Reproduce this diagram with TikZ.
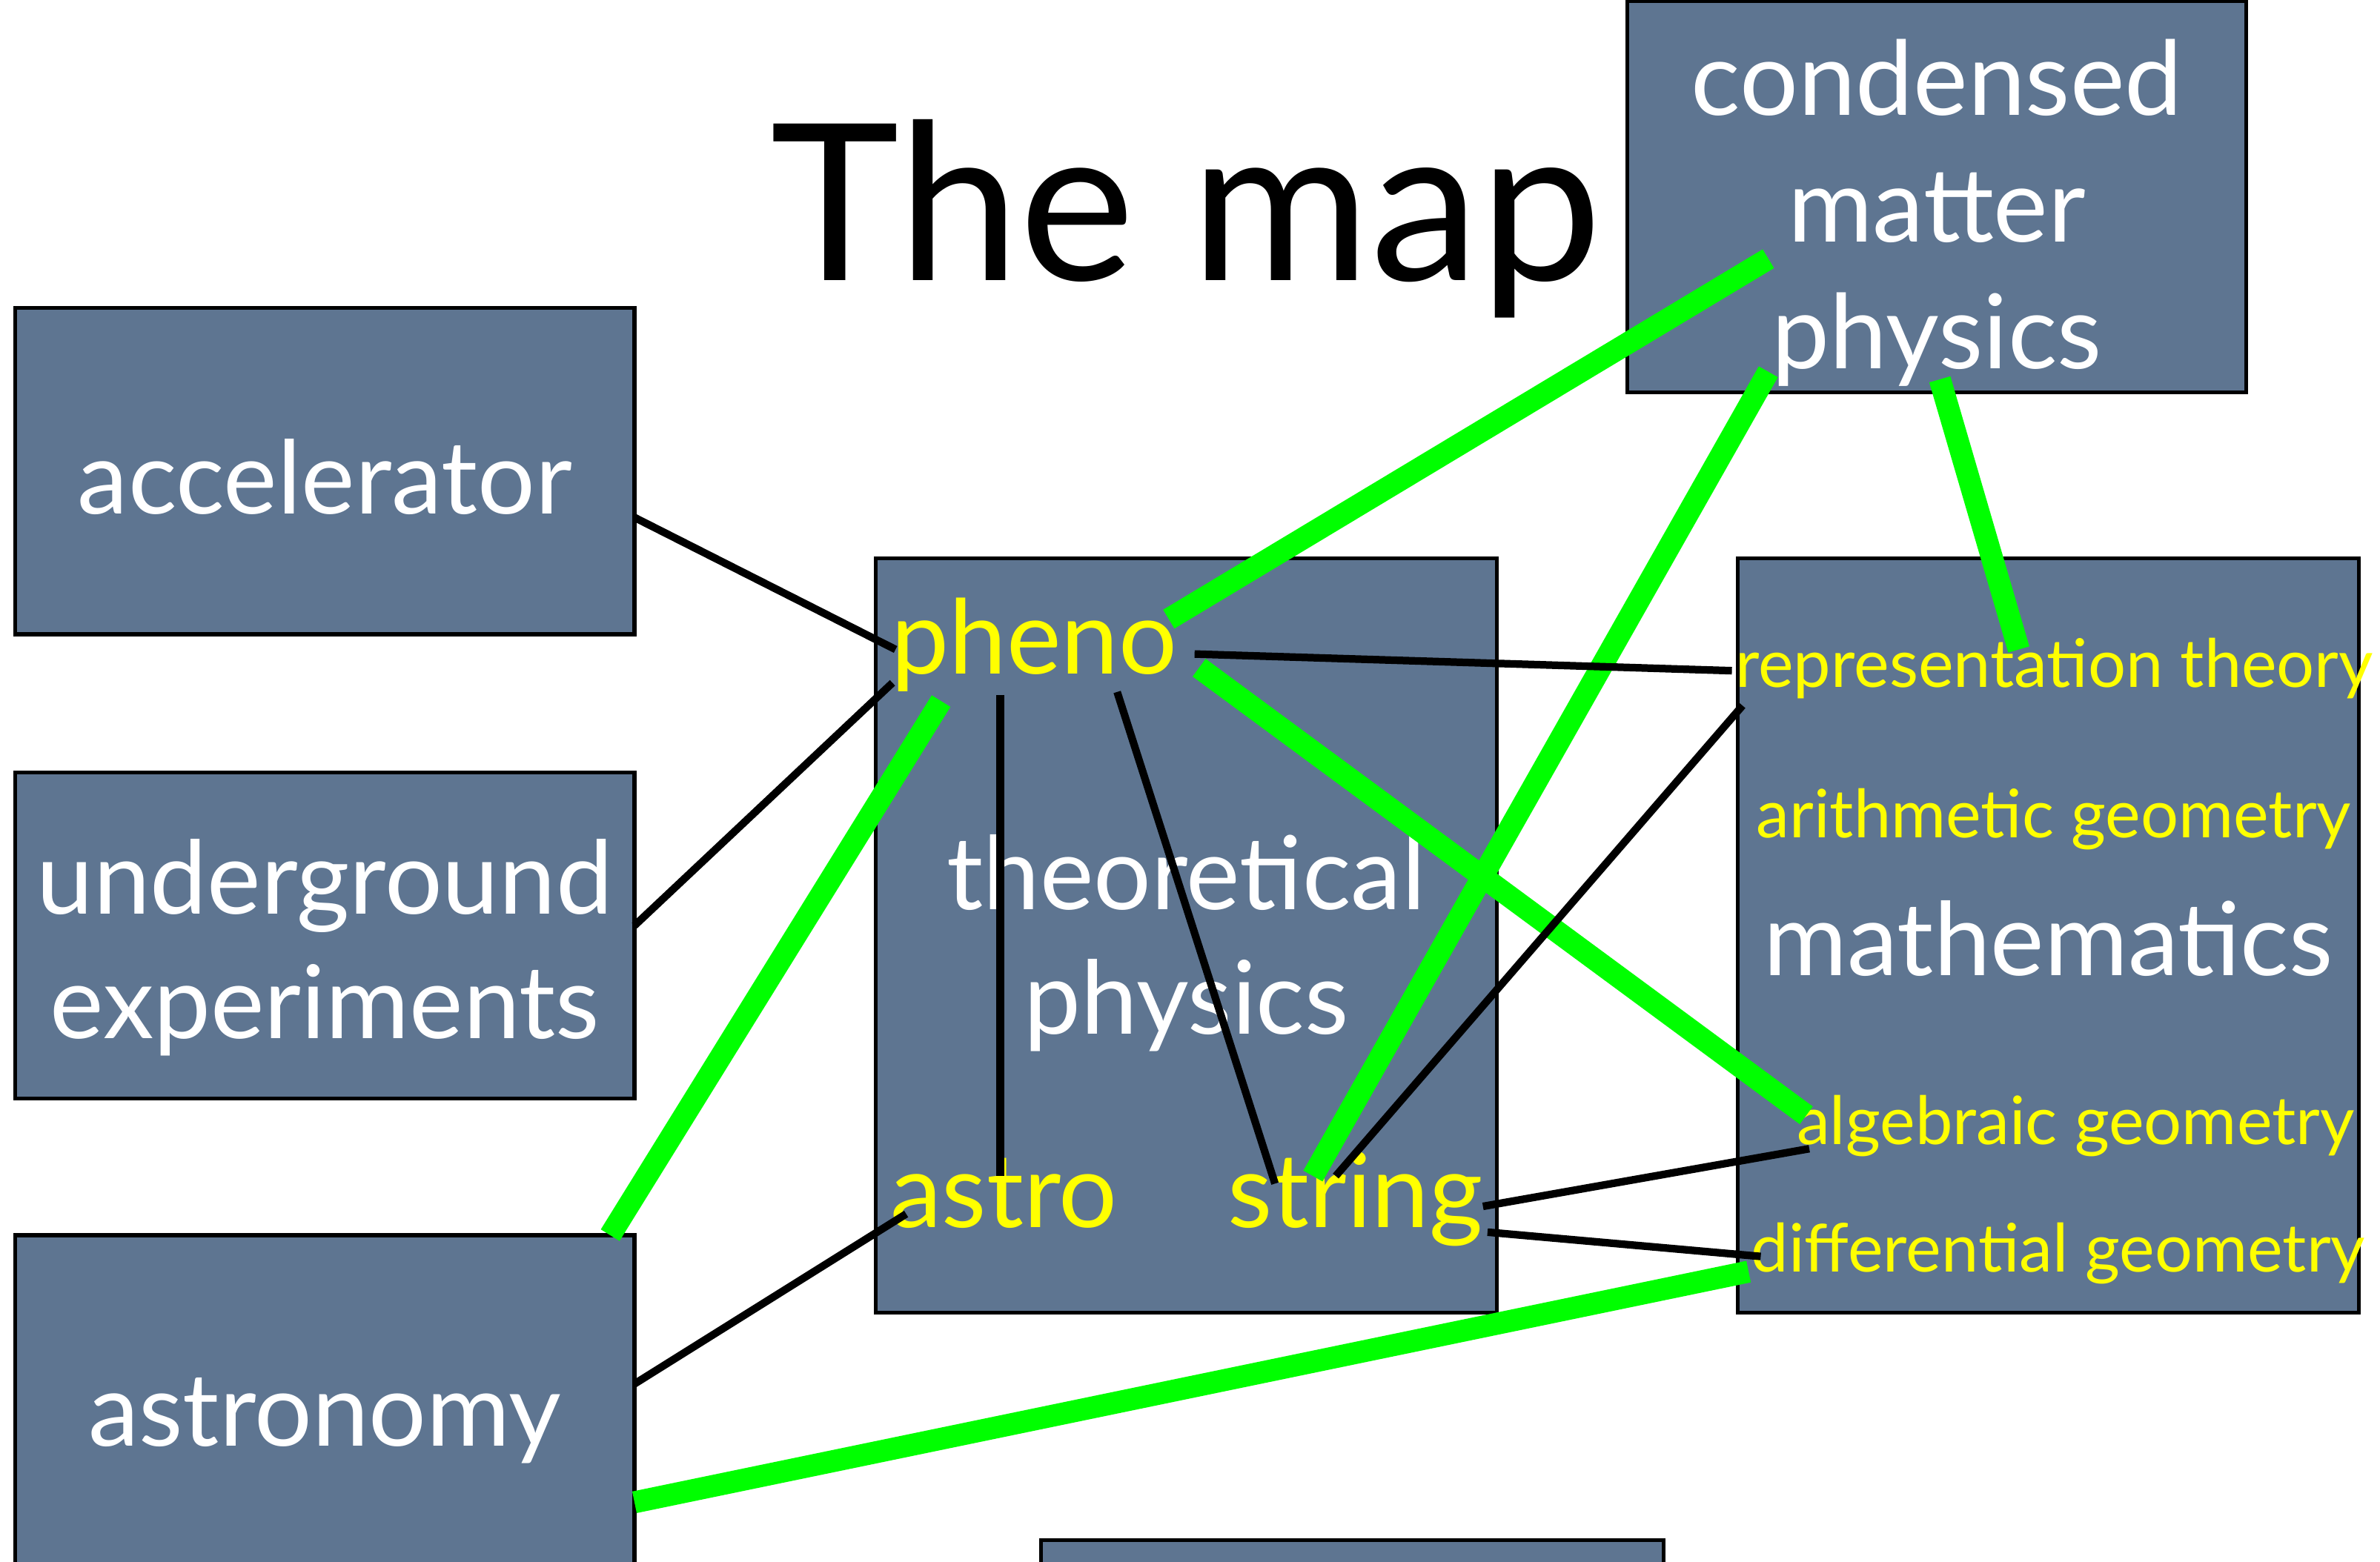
\documentclass[tikz,border=0pt]{standalone}
\usepackage{fontspec}
\setmainfont{Lato}
\usetikzlibrary{calc}
\definecolor{slate}{RGB}{94,117,145}
\definecolor{brightgreen}{RGB}{0,255,0}
\definecolor{brightyellow}{RGB}{255,255,0}
\newcommand{\lift}[1]{\rule{0pt}{#1pt}}
\tikzset{
  fieldbox/.style={
    draw=black, line width=2.5pt, fill=slate, text=white,
    minimum width=408pt, inner sep=0pt, align=center,
    font=\fontsize{67}{82}\selectfont
  },
  subfield/.style={text=brightyellow, anchor=base, inner sep=0pt},
  biglabel/.style={subfield, font=\fontsize{68}{80}\selectfont},
  smalllabel/.style={subfield, font=\fontsize{44}{50}\selectfont},
  weaklink/.style={line width=5pt, black},
  stronglink/.style={line width=14.5pt, brightgreen}
}

\begin{document}
\begin{tikzpicture}[x=1pt, y=-1pt]
  \useasboundingbox (0,0) rectangle (1568,1029);
  \clip (0,0) rectangle (1568,1029);

  % ── fields ────────────────────────────────────────────────────────
  \node[fieldbox, minimum height=215pt] (acc)   at (214,310.5) {\lift{57}accelerator};
  \node[fieldbox, minimum height=215pt] (undgr) at (214,616.5)
    {\lift{65}underground\\experiments};
  \node[fieldbox, minimum height=228pt] (astron) at (214,928) {\lift{61}astronomy};
  \node[fieldbox, minimum width=409pt, minimum height=497pt] (theo) at (781.5,616.5)
    {\lift{59}theoretical\\physics};
  \node[fieldbox, minimum height=258pt, font=\fontsize{68}{83.5}\selectfont] (cmp)
    at (1276,129.5) {\lift{72}condensed\\matter\\physics};
  \node[fieldbox, minimum width=409pt, minimum height=497pt] (math) at (1349.5,616.5)
    {\lift{53}mathematics};
  \node[fieldbox, minimum width=410pt, minimum height=220pt] (extra) at (891,1125) {};

  \node[anchor=base, font=\fontsize{144}{150}\selectfont] (title) at (781.5,185) {The map};

  % ── subfields ─────────────────────────────────────────────────────
  \node[biglabel]   (pheno)     at (681.5,444) {pheno};
  \node[biglabel]   (astro)     at (661.5,809) {astro};
  \node[biglabel]   (string)    at (893,809)   {string};
  \node[smalllabel] (reptheory) at (1353.5,453) {representation theory};
  \node[smalllabel] (arithgeom) at (1353,552)   {arithmetic geometry};
  \node[smalllabel] (alggeom)   at (1367.5,754) {algebraic geometry};
  \node[smalllabel] (diffgeom)  at (1356,838)   {differential geometry};

  % ── strong links ──────────────────────────────────────────────────
  \draw[stronglink] ($(cmp.center)+(-111,41)$)     -- ($(pheno.base)+(88.5,-36)$);
  \draw[stronglink] ($(cmp.center)+(-111,115.5)$)  -- ($(string.base)+(-28,-34)$);
  \draw[stronglink] ($(cmp.center)+(2,120.5)$)     -- ($(reptheory.base)+(-23.5,-25)$);
  \draw[stronglink] ($(pheno.base)+(-61.5,18)$)    -- ($(astron.center)+(188,-114)$);
  \draw[stronglink] ($(pheno.base)+(108.5,-4)$)    -- ($(alggeom.base)+(-177.5,-19)$);
  \draw[stronglink] ($(astron.center)+(204,62)$)   -- ($(diffgeom.base)+(-204,0)$);

  % ── weak links ────────────────────────────────────────────────────
  \draw[weaklink] ($(acc.center)+(204,30.5)$)    -- ($(pheno.base)+(-91.5,-16)$);
  \draw[weaklink] ($(undgr.center)+(204,-6.5)$)  -- ($(pheno.base)+(-93.5,6)$);
  \draw[weaklink] ($(pheno.base)+(-22.5,14)$)    -- ($(astro.base)+(-2.5,-34)$);
  \draw[weaklink] ($(pheno.base)+(54.5,12)$)     -- ($(string.base)+(-53,-29)$);
  \draw[weaklink] ($(pheno.base)+(105.5,-13)$)   -- ($(reptheory.base)+(-212.5,-11)$);
  \draw[weaklink] ($(string.base)+(-13,-34)$)    -- ($(reptheory.base)+(-205.5,12)$);
  \draw[weaklink] ($(string.base)+(84,-14)$)     -- ($(alggeom.base)+(-175.5,3)$);
  \draw[weaklink] ($(string.base)+(87,3)$)       -- ($(diffgeom.base)+(-196,-10)$);
  \draw[weaklink] ($(astron.center)+(204,-16)$)  -- ($(astro.base)+(-64.5,-9)$);
\end{tikzpicture}
\end{document}
